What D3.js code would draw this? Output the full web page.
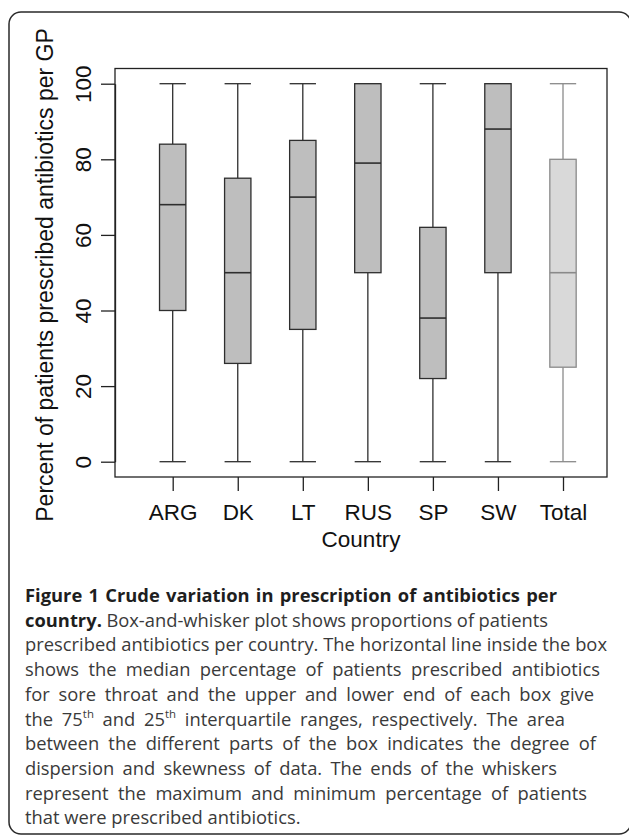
<!DOCTYPE html>
<html>
<head>
<meta charset="utf-8">
<script src="https://cdn.jsdelivr.net/npm/d3@7"></script>
<style>
  html, body { margin: 0; padding: 0; background: #fff; }
  svg { display: block; }
</style>
</head>
<body>
<svg id="chart" width="629" height="836"></svg>
<script>
// ---- data ----
const categories = ["ARG", "DK", "LT", "RUS", "SP", "SW", "Total"];
const minVals    = [0, 0, 0, 0, 0, 0, 0];
const q1Vals     = [40, 26, 35, 50, 22, 50, 25];
const medianVals = [68, 50, 70, 79, 38, 88, 50];
const q3Vals     = [84, 75, 85, 100, 62, 100, 80];
const maxVals    = [100, 100, 100, 100, 100, 100, 100];
const yTicks     = [0, 20, 40, 60, 80, 100];
const xTitle = "Country";
const yTitle = "Percent of patients prescribed antibiotics per GP";

// caption lines: [text, style] where b = bold, r = regular, s = superscript
const captionLines = [
  [["Figure 1 Crude variation in prescription of antibiotics per", "b"]],
  [["country.", "b"], [" Box-and-whisker plot shows proportions of patients", "r"]],
  [["prescribed antibiotics per country. The horizontal line inside the box", "r"]],
  [["shows the median percentage of patients prescribed antibiotics", "r"]],
  [["for sore throat and the upper and lower end of each box give", "r"]],
  [["the 75", "r"], ["th", "s"], [" and 25", "r"], ["th", "s"], [" interquartile ranges, respectively. The area", "r"]],
  [["between the different parts of the box indicates the degree of", "r"]],
  [["dispersion and skewness of data. The ends of the whiskers", "r"]],
  [["represent the maximum and minimum percentage of patients", "r"]],
  [["that were prescribed antibiotics.", "r"]]
];
const captionLineEnds = [557, 548, 607, 600, 594, 565, 596, 557, 587, 311];

// ---- layout ----
const svg = d3.select("#chart");
const plot = { left: 115, right: 607, top: 68.5, bottom: 477 };

// outer rounded frame (right side runs off the page)
svg.append("rect")
  .attr("x", 9).attr("y", 12).attr("width", 622).attr("height", 822)
  .attr("rx", 12).attr("ry", 12)
  .attr("fill", "none").attr("stroke", "#2a2a2a").attr("stroke-width", 1.5);

const x = d3.scalePoint().domain(categories).range([172.7, 563]);
const y = d3.scaleLinear().domain([0, 100]).range([461.7, 83.7]);
const boxW = x.step() * 0.405;

const axisFont = "'Liberation Sans', Arial, sans-serif";

// plot frame
svg.append("rect")
  .attr("x", plot.left).attr("y", plot.top)
  .attr("width", plot.right - plot.left).attr("height", plot.bottom - plot.top)
  .attr("fill", "none").attr("stroke", "#222").attr("stroke-width", 1.3);

// boxes
const data = categories.map((c, i) => ({
  c, min: minVals[i], q1: q1Vals[i], med: medianVals[i], q3: q3Vals[i], max: maxVals[i],
  total: c === "Total"
}));

const g = svg.append("g");
const bx = g.selectAll("g.box").data(data).join("g").attr("class", "box");
const lineCol = d => d.total ? "#8a8a8a" : "#2e2e2e";
const fillCol = d => d.total ? "#d9d9d9" : "#bebebe";

// whiskers
bx.append("line")
  .attr("x1", d => x(d.c)).attr("x2", d => x(d.c))
  .attr("y1", d => y(d.max)).attr("y2", d => y(d.q3))
  .attr("stroke", lineCol).attr("stroke-width", 1.3);
bx.append("line")
  .attr("x1", d => x(d.c)).attr("x2", d => x(d.c))
  .attr("y1", d => y(d.q1)).attr("y2", d => y(d.min))
  .attr("stroke", lineCol).attr("stroke-width", 1.3);
// staples
bx.append("line")
  .attr("x1", d => x(d.c) - boxW / 2).attr("x2", d => x(d.c) + boxW / 2)
  .attr("y1", d => y(d.max)).attr("y2", d => y(d.max))
  .attr("stroke", lineCol).attr("stroke-width", 1.3);
bx.append("line")
  .attr("x1", d => x(d.c) - boxW / 2).attr("x2", d => x(d.c) + boxW / 2)
  .attr("y1", d => y(d.min)).attr("y2", d => y(d.min))
  .attr("stroke", lineCol).attr("stroke-width", 1.3);
// box
bx.append("rect")
  .attr("x", d => x(d.c) - boxW / 2).attr("width", boxW)
  .attr("y", d => y(d.q3)).attr("height", d => y(d.q1) - y(d.q3))
  .attr("fill", fillCol).attr("stroke", lineCol).attr("stroke-width", 1.3);
// median
bx.append("line")
  .attr("x1", d => x(d.c) - boxW / 2).attr("x2", d => x(d.c) + boxW / 2)
  .attr("y1", d => y(d.med)).attr("y2", d => y(d.med))
  .attr("stroke", lineCol).attr("stroke-width", 1.6);

// y axis
const yAxis = svg.append("g")
  .attr("transform", `translate(${plot.left},0)`)
  .call(d3.axisLeft(y).tickValues(yTicks).tickSize(14).tickSizeOuter(0).tickFormat(d3.format("d")));
yAxis.select(".domain").attr("stroke", "#222").attr("stroke-width", 1.3);
yAxis.selectAll(".tick line").attr("stroke", "#222").attr("stroke-width", 1.3);
yAxis.selectAll(".tick text")
  .attr("transform", "rotate(-90)")
  .attr("x", 0).attr("y", -24).attr("dy", 0)
  .attr("text-anchor", "middle")
  .attr("font-family", axisFont).attr("font-size", 22.5).attr("fill", "#111");

// x axis
const xAxis = svg.append("g")
  .attr("transform", `translate(0,${plot.bottom})`)
  .call(d3.axisBottom(x).tickSize(14).tickSizeOuter(0));
xAxis.select(".domain").remove();
xAxis.selectAll(".tick line").attr("stroke", "#222").attr("stroke-width", 1.3);
xAxis.selectAll(".tick text")
  .attr("y", 43).attr("dy", 0)
  .attr("font-family", axisFont).attr("font-size", 22.5).attr("fill", "#111");

// titles
svg.append("text")
  .attr("x", (plot.left + plot.right) / 2).attr("y", 546.7)
  .attr("text-anchor", "middle")
  .attr("font-family", axisFont).attr("font-size", 22.5).attr("fill", "#111")
  .text(xTitle);
svg.append("text")
  .attr("transform", `translate(53.3,275) rotate(-90)`)
  .attr("text-anchor", "middle")
  .attr("font-family", axisFont).attr("font-size", 23).attr("fill", "#111")
  .text(yTitle);

// caption
const capFont = "'Open Sans', 'Noto Sans', sans-serif";
const capX = 25, capY0 = 602, capLH = 24.7;

function drawLine(parts, i, fs) {
  const t = svg.append("text")
    .attr("x", capX).attr("y", capY0 + i * capLH)
    .attr("font-family", capFont).attr("font-size", fs)
    .attr("fill", "#3a3a3a");
  let sup = false;
  parts.forEach(([txt, st]) => {
    const ts = t.append("tspan").text(txt);
    if (st === "b") ts.attr("font-weight", "bold").attr("fill", "#1e1e1e");
    if (st === "s") { ts.attr("font-size", fs * 0.62).attr("dy", -fs * 0.42); sup = true; }
    else if (sup) { ts.attr("dy", fs * 0.42); sup = false; }
  });
  return t;
}

// determine font size from a reference line
const probe = drawLine(captionLines[2], 2, 18);
const natural = probe.node().getComputedTextLength();
probe.remove();
const capFS = 18 * (captionLineEnds[2] - capX) / natural;

captionLines.forEach((parts, i) => {
  const t = drawLine(parts, i, capFS);
  const w = t.node().getComputedTextLength();
  const fullText = parts.map(p => p[0]).join("");
  const spaces = (fullText.match(/ /g) || []).length;
  const target = captionLineEnds[i] - capX;
  if (spaces > 0 && i !== captionLines.length - 1) {
    t.attr("word-spacing", (target - w) / spaces);
  }
});
</script>
</body>
</html>
